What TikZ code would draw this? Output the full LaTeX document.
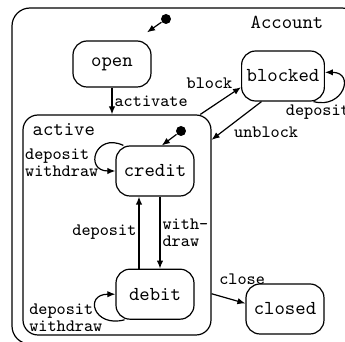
\documentclass[tikz,border=0pt]{standalone}
\usepackage{fontspec}
\usepackage{tikz}
\usetikzlibrary{arrows.meta,positioning}
\newcommand{\stfont}{\fontsize{9.9}{11}\selectfont\ttfamily}
\newcommand{\lblfont}{\fontsize{8.7}{8.5}\selectfont\ttfamily}

\begin{document}
\begin{tikzpicture}[x=0.5pt,y=-0.5pt,>={Latex[length=4pt,width=3.2pt]},line width=0.6pt,
  state/.style={draw,rounded corners=7pt,minimum width=39pt,minimum height=25pt,inner xsep=2.5pt,font=\stfont},
  lbl/.style={font=\lblfont,inner sep=1pt},
  initdot/.style={circle,fill,inner sep=0pt,minimum size=5pt}]
\useasboundingbox (0,0) rectangle (345,342);
\clip (0,0) rectangle (345,342);

% outer composite state
\node[draw,rounded corners=9pt,minimum width=174pt,minimum height=168pt] (account) at (186,176) {};
\node[font=\stfont,anchor=base] (accountLbl) at (287,29) {Account};
\node[initdot] (startAcc) at (166,19) {};
\node[state,minimum height=23pt] (open) at (112,64) {open};
\node[state] (blocked) at (283,76) {blocked};
\node[state] (closed) at (285,309) {closed};

% nested composite state
\node[draw,rounded corners=7.5pt,minimum width=94pt,minimum height=110pt] (active) at (117,225) {};
\node[font=\stfont,anchor=base west] (activeLbl) at ([shift={(3,21)}]active.north west) {active};
\node[initdot] (startAct) at (181,131) {};
\node[state] (credit) at (155,171) {credit};
\node[state,below=36pt of credit] (debit) {debit};

\draw[->,shorten >=7pt] (startAcc) -- (open.45);
\draw[->] (startAct) -- (credit.75);
\draw[->] (open.south) -- (open.south |- active.north) node[midway,right,lbl] {activate};
\draw[->] (active.53) -- (blocked.195) node[pos=.85,above left,lbl] {block};
\draw[->] (blocked.230) -- (active.42) node[pos=.6,anchor=north west,lbl] {unblock};
\draw[->] (active.-36) -- (closed.172) node[pos=.15,anchor=south west,yshift=4pt,lbl] {close};
\draw[->] ([xshift=-8pt]debit.north) -- ([xshift=-8pt]credit.south) node[midway,left,lbl] {deposit};
\draw[->] ([xshift=2.5pt]credit.south) -- ([xshift=2.5pt]debit.north) node[midway,right,lbl,align=left] {with-\\draw};

% self loops
\draw[->] (credit.141) to[out=155,in=180,looseness=3] node[pos=.7,anchor=east,xshift=1.5pt,lbl,align=left] {deposit\\withdraw} (credit.west);
\draw[->] (debit.220) to[out=195,in=180,looseness=3] node[pos=.3,anchor=east,xshift=1pt,lbl,align=left] {deposit\\withdraw} (debit.west);
\draw[->] (blocked.-40) to[out=-15,in=0,looseness=2.5] node[pos=.1,anchor=north,xshift=-2pt,lbl] {deposit} (blocked.5);
\end{tikzpicture}
\end{document}
